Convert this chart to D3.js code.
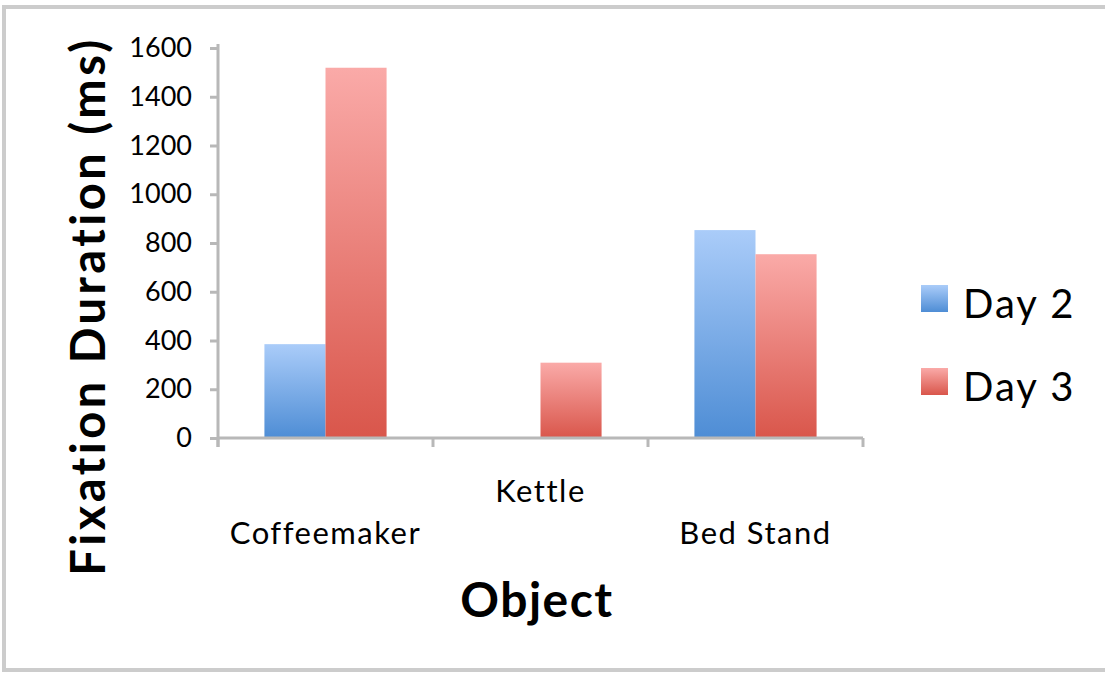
<!DOCTYPE html>
<html>
<head>
<meta charset="utf-8">
<script src="https://cdn.jsdelivr.net/npm/d3@7"></script>
<style>
  html, body { margin: 0; padding: 0; background: #fff; }
  svg { display: block; }
  text { font-family: Lato, "Open Sans", sans-serif; fill: #000; }
</style>
</head>
<body>
<svg id="chart" width="1105" height="673"></svg>
<script>
// Fixation duration per object, grouped by day
const categories = ["Coffeemaker", "Kettle", "Bed Stand"];
const seriesNames = ["Day 2", "Day 3"];
const day2Values = [385, 0, 853];
const day3Values = [1519, 309, 754];
const yTicks = [0, 200, 400, 600, 800, 1000, 1200, 1400, 1600];

const seriesValues = [day2Values, day3Values];
const gradients = [
  { id: "gradDay2", top: "#aaccf9", bottom: "#4e8dd5" },
  { id: "gradDay3", top: "#faaaa8", bottom: "#d9564b" }
];

const svg = d3.select("#chart");
const defs = svg.append("defs");
gradients.forEach(g => {
  const lg = defs.append("linearGradient")
    .attr("id", g.id).attr("x1", 0).attr("y1", 0).attr("x2", 0).attr("y2", 1);
  lg.append("stop").attr("offset", "0%").attr("stop-color", g.top);
  lg.append("stop").attr("offset", "100%").attr("stop-color", g.bottom);
});

// outer frame (top, left, bottom edges)
svg.append("path")
  .attr("d", "M1105,7 H4 V670 H1105")
  .attr("fill", "none").attr("stroke", "#cccccc").attr("stroke-width", 4);

const plot = { left: 218, right: 863, top: 48, bottom: 438 };

const x = d3.scaleBand().domain(categories).range([plot.left, plot.right]).padding(0);
const xs = d3.scaleBand().domain(seriesNames).range([0, x.bandwidth()])
  .paddingInner(0).paddingOuter(0.76);
const y = d3.scaleLinear().domain([0, 1600]).range([plot.bottom, plot.top]);

// bars
const barData = [];
categories.forEach((c, i) => {
  seriesNames.forEach((s, j) => {
    barData.push({ cat: c, series: s, value: seriesValues[j][i], grad: gradients[j].id });
  });
});
svg.append("g").selectAll("rect").data(barData.filter(d => d.value > 0)).join("rect")
  .attr("x", d => x(d.cat) + xs(d.series))
  .attr("y", d => y(d.value))
  .attr("width", xs.bandwidth())
  .attr("height", d => y(0) - y(d.value))
  .attr("fill", d => `url(#${d.grad})`);

// y axis
const yAxis = svg.append("g").attr("transform", `translate(${plot.left},0)`)
  .call(d3.axisLeft(y).tickValues(yTicks).tickSize(8).tickPadding(18).tickFormat(d3.format("d")));
yAxis.select(".domain").attr("stroke", "#b8b8b8").attr("stroke-width", 3)
  .attr("d", `M0,${plot.top - 4}V${plot.bottom + 9}`);
yAxis.selectAll(".tick line").attr("stroke", "#b8b8b8").attr("stroke-width", 3);
yAxis.selectAll(".tick text").style("font-size", "27px").attr("fill", "#000");

// x axis with ticks at category boundaries
const xAxisG = svg.append("g");
xAxisG.append("line")
  .attr("x1", plot.left).attr("x2", plot.right)
  .attr("y1", plot.bottom).attr("y2", plot.bottom)
  .attr("stroke", "#b8b8b8").attr("stroke-width", 3);
const boundaries = categories.map(c => x(c)).concat([x(categories[categories.length - 1]) + x.bandwidth()]);
xAxisG.selectAll("line.tk").data(boundaries).join("line").attr("class", "tk")
  .attr("x1", d => d).attr("x2", d => d)
  .attr("y1", plot.bottom).attr("y2", plot.bottom + 9)
  .attr("stroke", "#b8b8b8").attr("stroke-width", 3);

// staggered category labels
svg.append("g").selectAll("text").data(categories).join("text")
  .attr("x", d => x(d) + x.bandwidth() / 2)
  .attr("y", (d, i) => i % 2 === 1 ? 502 : 544)
  .attr("text-anchor", "middle")
  .style("font-size", "31px").style("letter-spacing", "1.5px")
  .text(d => d);

// axis titles
svg.append("text")
  .attr("transform", "translate(105,306) rotate(-90)")
  .attr("text-anchor", "middle")
  .style("font-size", "47px").style("font-weight", "bold").style("letter-spacing", "3.5px")
  .text("Fixation Duration (ms)");
svg.append("text")
  .attr("x", 537).attr("y", 617)
  .attr("text-anchor", "middle")
  .style("font-size", "48px").style("font-weight", "bold").style("letter-spacing", "1.5px")
  .text("Object");

// legend
const legend = svg.append("g").selectAll("g").data(seriesNames).join("g")
  .attr("transform", (d, i) => `translate(921,${285 + i * 83})`);
legend.append("rect").attr("width", 27).attr("height", 27)
  .attr("fill", (d, i) => `url(#${gradients[i].id})`);
legend.append("text").attr("x", 42).attr("y", 33)
  .style("font-size", "40px").style("letter-spacing", "2px").text(d => d);
</script>
</body>
</html>
